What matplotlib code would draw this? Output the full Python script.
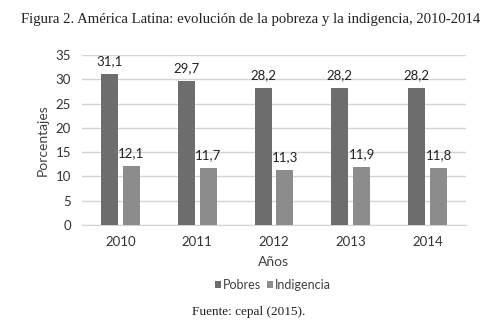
import matplotlib.pyplot as plt
import numpy as np

years = ["2010", "2011", "2012", "2013", "2014"]
pobres = [31.1, 29.7, 28.2, 28.2, 28.2]
indigencia = [12.1, 11.7, 11.3, 11.9, 11.8]

BAR_W = 0.22
GAP = 0.065
C_POB = "#6d6d6d"
C_IND = "#8c8c8c"
TXT = "#404040"
SANS = ["Lato", "DejaVu Sans"]
SERIF = ["Liberation Serif", "DejaVu Serif"]

fig = plt.figure(figsize=(5.02, 3.31), dpi=100)
ax = fig.add_axes([82 / 502, 1 - 225 / 331, 384 / 502, 170 / 331])

x = np.arange(len(years))
off = (BAR_W + GAP) / 2
b1 = ax.bar(x - off, pobres, BAR_W, color=C_POB, label="Pobres", zorder=3)
b2 = ax.bar(x + off, indigencia, BAR_W, color=C_IND, label="Indigencia", zorder=3)

# etiquetas de valor con coma decimal
for bars, vals in ((b1, pobres), (b2, indigencia)):
    for b, v in zip(bars, vals):
        ax.text(b.get_x() + b.get_width() / 2, v + 1.4, f"{v:.1f}".replace(".", ","),
                ha="center", va="bottom", fontsize=9.5, color="#222222", family=SANS)

ax.set_xlim(-0.5, len(years) - 0.5)
ax.set_ylim(0, 35)
ax.set_yticks(range(0, 36, 5))
ax.set_xticks(x)
ax.set_xticklabels(years)
ax.grid(axis="y", color="#d4d4d4", linewidth=1, zorder=0)
for s in ("top", "right", "left"):
    ax.spines[s].set_visible(False)
ax.spines["bottom"].set_color("#d4d4d4")
ax.tick_params(length=0, labelsize=9.5, colors="#333333", pad=8)
for lbl in ax.get_xticklabels() + ax.get_yticklabels():
    lbl.set_family(SANS)
ax.set_xlabel("Años", fontsize=10, color=TXT, family=SANS, labelpad=6)
ax.set_ylabel("Porcentajes", fontsize=10, color=TXT, family=SANS, labelpad=5)

fig.legend(handles=[b1, b2], loc="center", bbox_to_anchor=(273 / 502, 1 - 285 / 331),
           ncol=2, frameon=False, handlelength=0.5, handleheight=0.5, handletextpad=0.15,
           columnspacing=0.5, prop={"family": SANS, "size": 9}, labelcolor=TXT)

fig.text(0.5, 1 - 20 / 331, "Figura 2. América Latina: evolución de la pobreza y la indigencia, 2010-2014",
         ha="center", va="center", fontsize=10.6, family=SERIF, color="#222222")
fig.text(249 / 502, 1 - 312 / 331, "Fuente: cepal (2015).", ha="center", va="center",
         fontsize=9.5, family=SERIF, color="#222222")

fig.savefig("out.png", dpi=100)
